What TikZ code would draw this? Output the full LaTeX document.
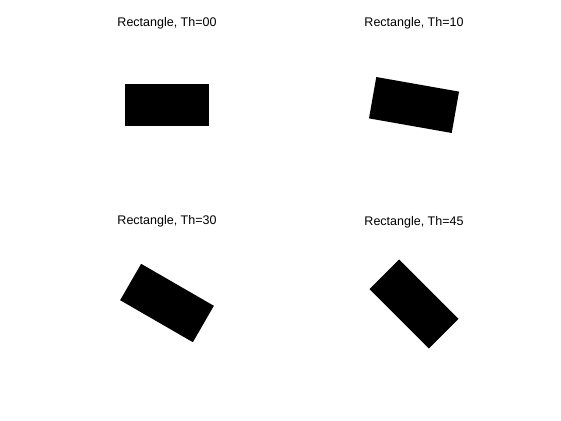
\documentclass[tikz,border=0pt]{standalone}
\usepackage{fontspec}
\setmainfont{Liberation Sans}
\begin{document}
\begin{tikzpicture}[x=1pt, y=1pt, font=\fontsize{12.5}{15}\selectfont,
		shapebox/.style={draw=none, fill=black, inner sep=0pt, minimum width=84pt, minimum height=42pt}]
			\useasboundingbox (0,0) rectangle (561,420);
			\foreach \n/\x/\y/\t in {a/167/315/00, b/414/315/10, c/167/117/30, d/414/116/45}{
				\node[shapebox, rotate=-\t] (\n) at (\x,\y) {};
				\node (\n-title) at (\x,\y+82) {Rectangle, Th=\t};
			}
		\end{tikzpicture}
\end{document}
